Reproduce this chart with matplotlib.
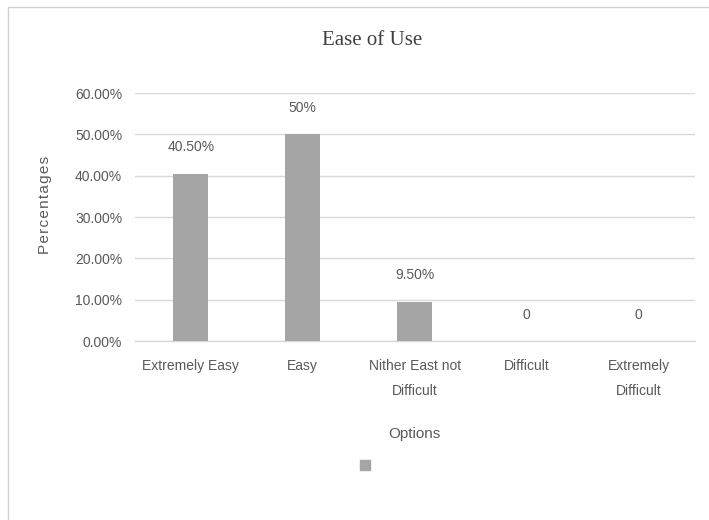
import matplotlib.pyplot as plt
from matplotlib.patches import Patch, Rectangle

categories = ['Extremely Easy', 'Easy', 'Nither East not\nDifficult', 'Difficult', 'Extremely\nDifficult']
values = [40.5, 50.0, 9.5, 0.0, 0.0]
value_labels = ['40.50%', '50%', '9.50%', '0', '0']
yticks = [0, 10, 20, 30, 40, 50, 60]

bar_color = '#a5a5a5'
text_color = '#595959'
grid_color = '#d9d9d9'
font = ['Liberation Sans', 'DejaVu Sans']

fig = plt.figure(figsize=(7.09, 5.2), dpi=100)
ax = fig.add_axes([0.190, 0.344, 0.790, 0.477])

x = range(len(categories))
ax.bar(x, values, width=0.31, color=bar_color, zorder=3)

for xi, v, lab in zip(x, values, value_labels):
    ax.annotate(lab, (xi, v), xytext=(0, 19), textcoords='offset points',
                ha='center', va='center', fontsize=10, color=text_color, family=font)

ax.set_xlim(-0.5, len(categories) - 0.5)
ax.set_ylim(0, 60)
ax.set_yticks(yticks)
ax.set_yticklabels(['%.2f%%' % t for t in yticks], family=font, fontsize=10, color=text_color)
ax.set_xticks(list(x))
ax.set_xticklabels(categories, family=font, fontsize=10, color=text_color, linespacing=2.0)
ax.tick_params(axis='y', length=0, pad=9)
ax.tick_params(axis='x', length=0, pad=13)
ax.yaxis.grid(True, color=grid_color, linewidth=1, zorder=0)
ax.axhline(0, color=grid_color, linewidth=1, zorder=1, clip_on=False)
for s in ax.spines.values():
    s.set_visible(False)

ax.set_xlabel('Options', family=font, fontsize=11, color=text_color, labelpad=21)
fig.text(0.064, 0.605, 'P\u200ae\u200ar\u200ac\u200ae\u200an\u200at\u200aa\u200ag\u200ae\u200as',
         rotation=90, ha='center', va='center',
         family=font, fontsize=11, color=text_color)

fig.text(0.525, 0.922, 'Ease of Use', ha='center', va='center',
         family=['Liberation Serif', 'DejaVu Serif'], fontsize=15, color='#404040')

fig.legend(handles=[Patch(color=bar_color)], labels=[''], loc='center',
           bbox_to_anchor=(0.515, 0.104), frameon=False,
           handlelength=0.7, handleheight=0.7, handletextpad=0)

# chart frame
fig.patches.append(Rectangle((8 / 709, -0.05), 1.1, 1.05 - 7 / 520,
                             transform=fig.transFigure, fill=False,
                             edgecolor='#d0d0d0', linewidth=1))

fig.savefig('out.png', dpi=100)
